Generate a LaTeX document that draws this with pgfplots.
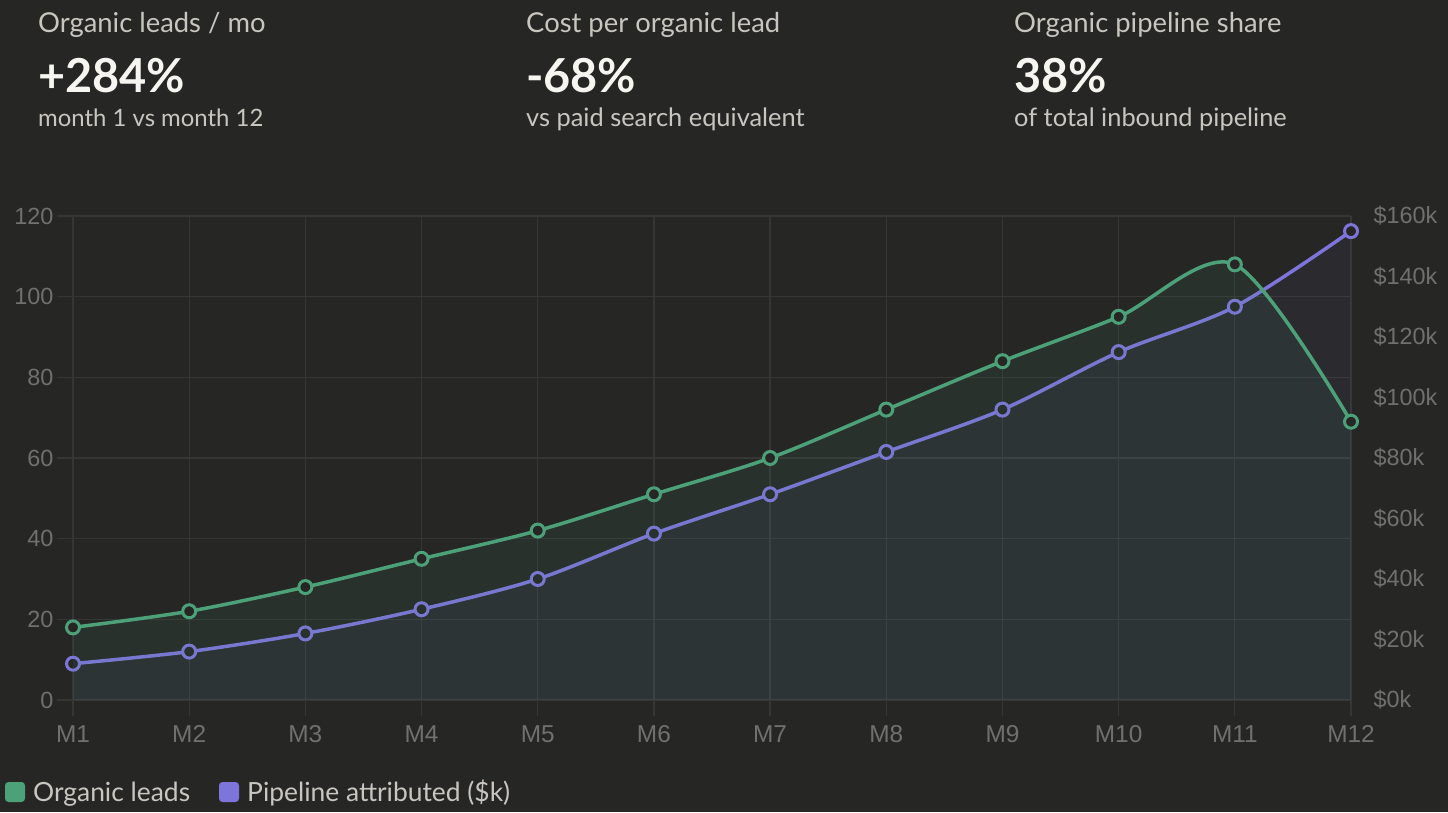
\documentclass[border=0pt]{standalone}
\usepackage{fontspec}
\setmainfont{Lato}
\newfontfamily\tickfont{Liberation Sans}
\usepackage{pgfplots}
\pgfplotsset{compat=1.18}

\definecolor{bg}{RGB}{38,38,37}
\definecolor{gridc}{RGB}{54,54,53}
\definecolor{tickc}{RGB}{112,112,110}
\definecolor{headc}{RGB}{200,198,190}
\definecolor{bigc}{RGB}{246,245,240}
\definecolor{leads}{RGB}{76,161,121}
\definecolor{pipe}{RGB}{125,117,218}

\pgfplotsset{
  base/.style={
    width=1278bp, height=484bp, scale only axis,
    at={(73bp,112bp)}, anchor=south west,
    xmin=0, xmax=11, ymin=0,
    axis line style={draw=none},
    ticklabel style={font=\tickfont\fontsize{23.5}{23.5}\selectfont, text=tickc},
  },
  lineplot/.style={line width=3.5bp, smooth, mark=*, mark size=6.5bp,
    mark options={fill=bg, line width=3bp}},
  areaplot/.style={draw=none, smooth, fill=#1},
}

\begin{document}
\begin{tikzpicture}[x=1bp, y=1bp]
\fill[bg] (0,0) rectangle (1448,812);
\useasboundingbox (0,0) rectangle (1448,812);

% KPI header
\begin{scope}[every node/.style={anchor=base west, inner sep=0}]
  \node[text=headc, font=\fontsize{27.5}{31}\selectfont] at (38,779) {Organic leads / mo};
  \node[text=bigc, font=\bfseries\fontsize{47}{51}\selectfont] at (38,719) {+284\%};
  \node[text=headc, font=\fontsize{24}{29}\selectfont] at (38,685) {month 1 vs month 12};
  \node[text=headc, font=\fontsize{27.5}{31}\selectfont] at (526,779) {Cost per organic lead};
  \node[text=bigc, font=\bfseries\fontsize{47}{51}\selectfont] at (526,719) {-68\%};
  \node[text=headc, font=\fontsize{25.5}{29}\selectfont] at (526,685) {vs paid search equivalent};
  \node[text=headc, font=\fontsize{27.5}{31}\selectfont] at (1014,779) {Organic pipeline share};
  \node[text=bigc, font=\bfseries\fontsize{47}{51}\selectfont] at (1014,719) {38\%};
  \node[text=headc, font=\fontsize{25.5}{29}\selectfont] at (1014,685) {of total inbound pipeline};
\end{scope}

% grid + left and bottom ticks
\begin{axis}[base, ymax=120,
  axis x line*=bottom, axis y line*=left,
  xtick={0,...,11},
  xticklabels={M1,M2,M3,M4,M5,M6,M7,M8,M9,M10,M11,M12},
  xticklabel style={font=\tickfont\fontsize{24.5}{24.5}\selectfont, yshift=-6bp},
  ytick={0,20,...,120},
  yticklabels={0,20,40,60,80,100,120},
  grid=major, grid style={gridc, line width=1.3bp},
  tick align=outside, major tick length=16bp,
  tick style={gridc, line width=1.3bp},
]
  \addplot[draw=none] coordinates {(0,0)};
\end{axis}

% pipeline, right scale
\begin{axis}[base, ymax=160,
  axis y line*=right, hide x axis,
  ytick={0,20,...,160},
  yticklabels={\$0k,\$20k,\$40k,\$60k,\$80k,\$100k,\$120k,\$140k,\$160k},
  major tick length=0pt, ytick style={draw=none},
  yticklabel style={xshift=19bp},
]
  \addplot[areaplot=pipe, fill opacity=0.06] coordinates {
    (0,12) (1,16) (2,22) (3,30) (4,40) (5,55)
    (6,68) (7,82) (8,96) (9,115) (10,130) (11,155)
  } \closedcycle;
  \addplot[lineplot, pipe] coordinates {
    (0,12) (1,16) (2,22) (3,30) (4,40) (5,55)
    (6,68) (7,82) (8,96) (9,115) (10,130) (11,155)
  };
\end{axis}

% organic leads, left scale
\begin{axis}[base, ymax=120, hide axis]
  \addplot[areaplot=leads, fill opacity=0.09] coordinates {
    (0,18) (1,22) (2,28) (3,35) (4,42) (5,51)
    (6,60) (7,72) (8,84) (9,95) (10,108) (11,69)
  } \closedcycle;
  \addplot[lineplot, leads] coordinates {
    (0,18) (1,22) (2,28) (3,35) (4,42) (5,51)
    (6,60) (7,72) (8,84) (9,95) (10,108) (11,69)
  };
\end{axis}

% legend
\fill[leads, rounded corners=3.5bp] (5,10) rectangle (25,30);
\node[anchor=base west, inner sep=0, text=headc, font=\fontsize{26.5}{30}\selectfont] at (33,11) {Organic leads};
\fill[pipe, rounded corners=3.5bp] (219,10) rectangle (239,30);
\node[anchor=base west, inner sep=0, text=headc, font=\fontsize{26.5}{30}\selectfont] at (247,11) {Pipeline attributed (\$k)};
\end{tikzpicture}
\end{document}
